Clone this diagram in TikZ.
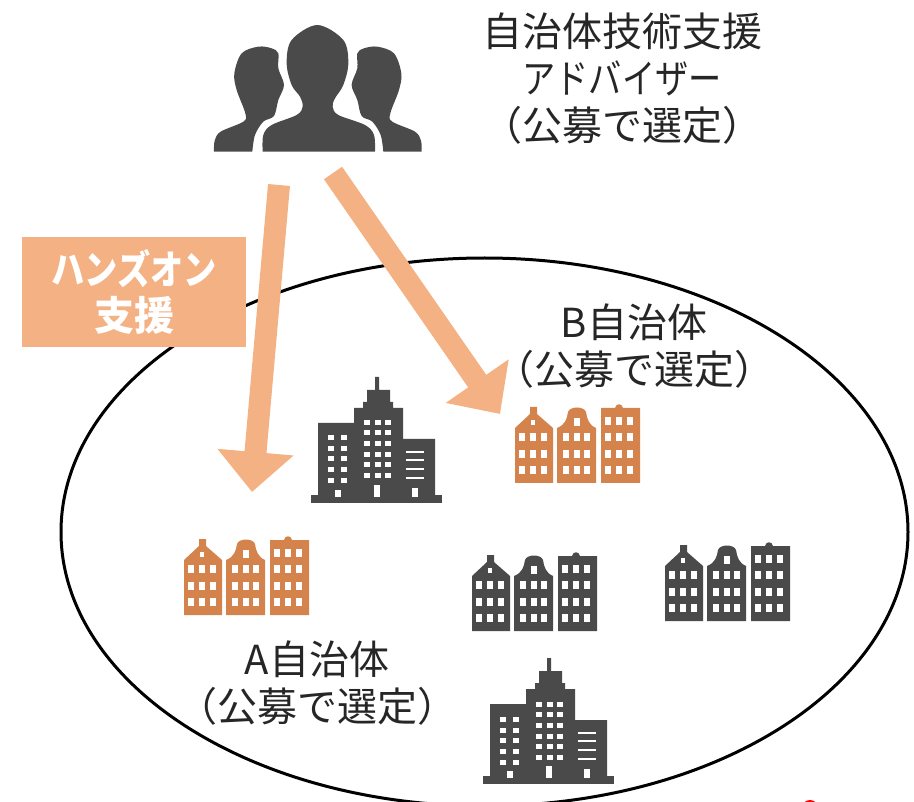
\documentclass[tikz,border=0pt]{standalone}
\usepackage{fontspec}
\setmainfont{Noto Sans CJK JP}
\usetikzlibrary{arrows.meta,shapes.geometric}
\definecolor{darkb}{HTML}{4A4A4A}
\definecolor{orangeb}{HTML}{D5834C}
\definecolor{peach}{HTML}{F4B183}
\newcommand{\kana}[1]{\scalebox{0.83}[1]{#1}}
\tikzset{
  x=1pt,y=-1pt,
  maintext/.style={align=center,inner sep=0pt,font=\fontsize{40}{47}\selectfont,text=black!85},
  boxtext/.style={align=center,inner sep=0pt,font=\fontsize{40}{46}\selectfont\bfseries,text=white},
  bigarrow/.style={draw=peach,line width=22pt,-{Triangle[width=74pt,length=40pt]}},
  pics/townhouse/.style={code={
    \fill[#1] (0,78) -- (0,23) -- (15,9) -- (15,2) -- (22,2) -- (22,9) -- (38,23) -- (38,78) -- cycle;
    \fill[#1] (42,78) -- (42,23) .. controls (50,20) and (52,14) .. (53,7) .. controls (55,1) and (69,1) .. (71,7) .. controls (72,14) and (74,20) .. (81,23) -- (81,78) -- cycle;
    \fill[#1] (86,78) -- (86,3) -- (100,3) .. controls (101,-2) and (107,-2) .. (108,3) -- (125,3) -- (125,78) -- cycle;
    \foreach \wx in {7,18,29,51,62,72,93,104,115}
      \foreach \wy in {32,49,65}
        \fill[white] (\wx-3,\wy-4) rectangle (\wx+3,\wy+4);
    \foreach \wx in {93,104,115}
      \fill[white] (\wx-3,12) rectangle (\wx+3,20);
    \fill[white] (62-3,13) rectangle (62+3,21);
    \fill[white] (18-2,15) rectangle (18+2,20);
  }},
  pics/tower/.style={code={
    \fill[#1] (0,118) rectangle (131,126);
    \fill[#1] (7,118) -- (7,46) -- (43,46) -- (43,31) -- (52,31) -- (52,25) -- (56,25) -- (56,13) -- (64,13) -- (64,0) -- (68,0) -- (68,13) -- (79,13) -- (79,25) -- (82,25) -- (82,31) -- (92,31) -- (92,62) -- (124,62) -- (124,118) -- cycle;
    \foreach \wx in {20,33}
      \foreach \wy in {61,72,82,93,104}
        \fill[white] (\wx-3,\wy-2.5) rectangle (\wx+3,\wy+2.5);
    \foreach \wx in {56,67,77}
      \foreach \wy in {46,56,67,78,88,99}
        \fill[white] (\wx-3,\wy-2.5) rectangle (\wx+3,\wy+2.5);
    \foreach \wy in {75,83,92,101}
      \fill[white] (95,\wy-1) rectangle (113,\wy+1);
    \fill[white] (24,113) rectangle (30,120);
    \fill[white] (63,108) rectangle (69,120);
    \fill[white] (101,111) rectangle (107,120);
  }},
}
\begin{document}
\begin{tikzpicture}
\useasboundingbox (0,0) rectangle (914,802);
\clip (0,0) rectangle (914,802);

% people icon
\begin{scope}[shift={(200,10)},x=0.3333pt,y=-0.3333pt]
  \fill[darkb] plot[smooth,tension=0.55] coordinates {(42,425) (44,392) (62,365) (130,335) (136,310) (110,240) (103,190) (125,130) (175,110) (215,115) (235,130) (235,175) (252,225) (235,270) (222,318) (190,335) (165,375) (157,425)} -- cycle;
  \fill[darkb] plot[smooth,tension=0.55] coordinates {(665,425) (663,392) (645,365) (577,335) (571,310) (597,240) (604,190) (582,130) (532,110) (492,115) (472,130) (472,175) (455,225) (472,270) (485,318) (517,335) (542,375) (550,425)} -- cycle;
  \fill[darkb] plot[smooth,tension=0.55] coordinates {(188,425) (190,375) (215,345) (290,315) (308,290) (300,260) (275,225) (260,160) (275,90) (352,45) (430,90) (445,160) (430,225) (405,265) (398,290) (415,315) (495,345) (522,375) (525,425)} -- cycle;
\end{scope}

% title
\node[maintext] (advisor) at (622,79) {自治体技術支援\\\kana{アドバイザー}\\（公募で選定）};

% ellipse
\node[draw=black,line width=3pt,ellipse,fill=none,inner sep=0pt,minimum width=847pt,minimum height=548pt] (region) at (484.5,532) {};

% label box
\node[fill=peach,minimum width=224pt,minimum height=110pt,inner sep=0pt] (support) at (134,292) {};
\node[boxtext] (supporttext) at (134,292) {\kana{ハンズオン}\\支援};

% arrows
\coordinate (a1s) at (279,185);
\coordinate (a1e) at (252,492);
\coordinate (a2s) at (333,173);
\coordinate (a2e) at (500,414);
\draw[bigarrow] (a1s) -- (a1e);
\draw[bigarrow] (a2s) -- (a2e);

% buildings
\pic at (515,405) {townhouse=orangeb};
\pic at (184,537) {townhouse=orangeb};
\pic at (472,553) {townhouse=darkb};
\pic at (665,543) {townhouse=darkb};
\pic at (311,377) {tower=darkb};
\pic at (483,658) {tower=darkb};

% labels
\node[maintext] (labelB) at (634,346) {B自治体\\（公募で選定）};
\node[maintext] (labelA) at (317,683) {A自治体\\（公募で選定）};

% red mark
\fill[red] (810,808) circle (8);
\end{tikzpicture}
\end{document}
